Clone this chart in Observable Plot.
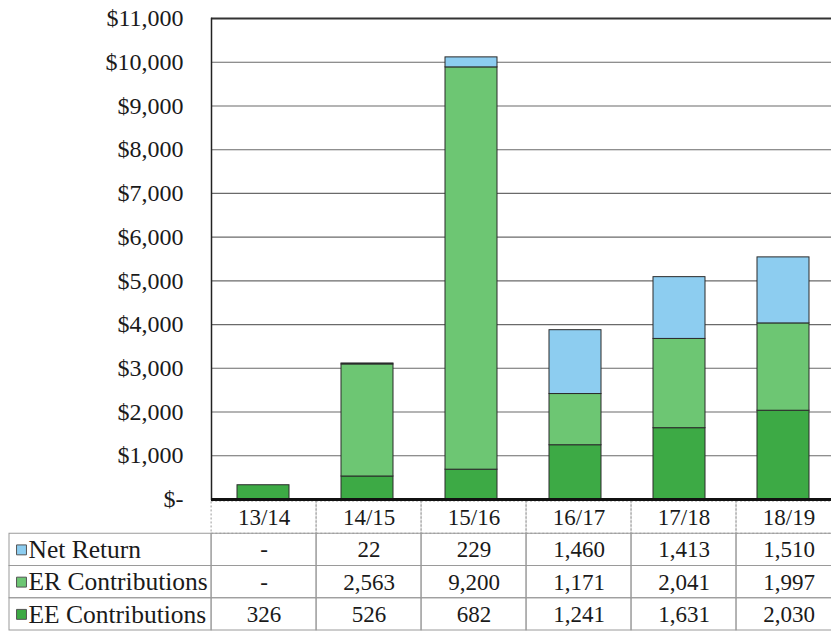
<!DOCTYPE html>
<html><head><meta charset="utf-8">
<script src="https://cdn.jsdelivr.net/npm/d3@7"></script>
<script src="https://cdn.jsdelivr.net/npm/@observablehq/plot@0.6"></script>
<style>
body{margin:0;background:#fff;overflow:hidden;}
#wrap{position:relative;width:831px;height:633px;overflow:hidden;background:#fff;}
#wrap svg{position:absolute;left:0;}
</style></head><body><div id="wrap"></div>
<script>
const years = ["13/14","14/15","15/16","16/17","17/18","18/19"];
const eeContributions = [326, 526, 682, 1241, 1631, 2030];
const erContributions = [0, 2563, 9200, 1171, 2041, 1997];
const netReturn = [0, 22, 229, 1460, 1413, 1510];
const seriesNames = ["EE Contributions", "ER Contributions", "Net Return"];
const seriesColors = ["#3daa45", "#6dc673", "#8dcdf0"];
const tableRows = ["Net Return", "ER Contributions", "EE Contributions"];
const yTicks = d3.range(0, 11001, 1000);
const FONT = "Liberation Serif, serif";

const seriesValues = {"EE Contributions": eeContributions, "ER Contributions": erContributions, "Net Return": netReturn};
const rows = years.flatMap((yr, i) => seriesNames.map(s => ({year: yr, series: s, value: seriesValues[s][i]})));
const fmtTick = d => d === 0 ? "$-" : "$" + d3.format(",")(d);
const fmtCell = v => v === 0 ? "-" : d3.format(",")(v);

const plot = Plot.plot({
  width: 831, height: 501,
  marginTop: 18, marginBottom: 2, marginLeft: 211, marginRight: 0,
  style: {fontFamily: FONT, fontSize: "24px", color: "#1a1a1a", background: "#fff", overflow: "visible"},
  x: {domain: years, range: [211, 835], paddingInner: 0.5, paddingOuter: 0.25, axis: null},
  y: {domain: [0, 11000], label: null},
  color: {domain: seriesNames, range: seriesColors},
  marks: [
    Plot.gridY(yTicks, {stroke: "#6a6a6a", strokeOpacity: 1, strokeWidth: 1.1}),
    Plot.barY(rows.filter(d => d.value > 0), Plot.stackY({x: "year", y: "value", fill: "series", stroke: "#2a2a2a", strokeWidth: 1})),
    Plot.ruleY([11000], {stroke: "#333", strokeWidth: 1.8}),
    Plot.frame({anchor: "left", stroke: "#222", strokeWidth: 1.5}),
    Plot.ruleY([0], {stroke: "#111", strokeWidth: 3}),
    Plot.axisY(yTicks, {tickSize: 0, tickPadding: 28, tickFormat: fmtTick, fontSize: 24, label: null})
  ]
});

// data table under the chart: the label column is LABEL_SPAN column units wide, then one unit per year
const LABEL_SPAN = 1.925;
const headerCells = years.map((yr, j) => ({col: j + LABEL_SPAN, row: 0, text: yr}));
const bodyCells = tableRows.flatMap((s, i) => seriesValues[s].map((v, j) => ({col: j + LABEL_SPAN, row: i + 1, text: fmtCell(v)})));
const labelCells = tableRows.map((s, i) => ({row: i + 1, name: s, color: seriesColors[seriesNames.indexOf(s)]}));
const gridColor = "#9a9a9a";

const tablePlot = Plot.plot({
  width: 831, height: 132, margin: 0,
  style: {fontFamily: FONT, fontSize: "23px", color: "#1a1a1a", background: "transparent"},
  x: {type: "linear", domain: [0, LABEL_SPAN + years.length], range: [9, 841], axis: null},
  y: {type: "linear", domain: [0, tableRows.length + 1], range: [0, 129], axis: null},
  marks: [
    Plot.rect(headerCells, {x1: "col", x2: d => d.col + 1, y1: "row", y2: d => d.row + 1, stroke: gridColor, strokeDasharray: "2,2", fill: "none"}),
    Plot.rect(bodyCells, {x1: "col", x2: d => d.col + 1, y1: "row", y2: d => d.row + 1, stroke: gridColor, fill: "none"}),
    Plot.rect(labelCells, {x1: 0, x2: LABEL_SPAN, y1: "row", y2: d => d.row + 1, stroke: gridColor, fill: "none"}),
    Plot.text(headerCells.concat(bodyCells), {x: d => d.col + 0.5, y: d => d.row + 0.5, text: "text", fontSize: 23, fill: "#1a1a1a"}),
    Plot.dot(labelCells, {x: 0, y: d => d.row + 0.5, dx: 12, symbol: "square", r: 5.6, fill: d => d.color, stroke: "#555", strokeWidth: 1}),
    Plot.text(labelCells, {x: 0, y: d => d.row + 0.5, dx: 19, text: "name", textAnchor: "start", fontSize: 25.5, fill: "#1a1a1a"})
  ]
});

const wrap = document.getElementById("wrap");
plot.style.top = "0px";
tablePlot.style.top = "501px";
wrap.appendChild(tablePlot);
wrap.appendChild(plot);
</script>
</body></html>
